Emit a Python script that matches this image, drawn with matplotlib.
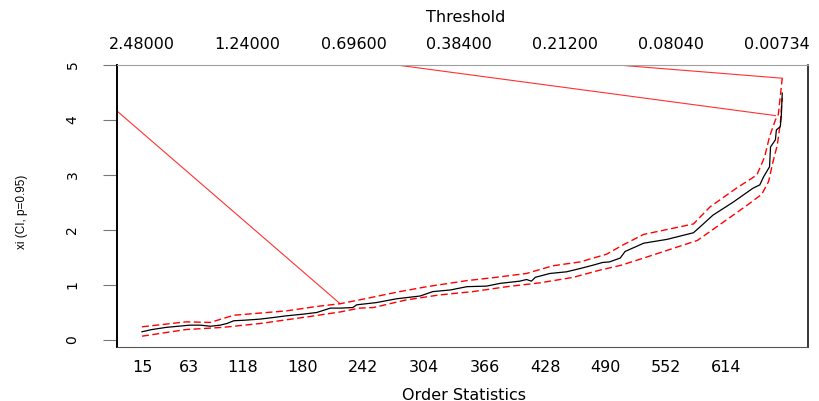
import numpy as np
import matplotlib
matplotlib.use('Agg')
import matplotlib.pyplot as plt

# hill-type plot: shape estimate xi vs number of order statistics, with 95% CI
k_xi = [15, 25, 40, 52, 64, 75, 85, 95, 102, 109, 120, 136, 150, 163, 180, 194, 208, 218,
        231, 235, 255, 276, 300, 313, 331, 348, 368, 382, 402, 409, 414, 418, 433, 450, 464,
        477, 487, 494, 505, 510, 529, 553, 580, 587, 600, 621, 641, 648, 652, 658, 659, 664,
        665, 669, 670, 671]
xi = [0.15, 0.19, 0.23, 0.25, 0.27, 0.27, 0.25, 0.27, 0.30, 0.35, 0.36, 0.38, 0.41, 0.44,
      0.47, 0.50, 0.58, 0.58, 0.59, 0.64, 0.68, 0.75, 0.80, 0.88, 0.91, 0.97, 0.98, 1.03,
      1.07, 1.10, 1.07, 1.14, 1.21, 1.24, 1.30, 1.36, 1.41, 1.42, 1.49, 1.61, 1.76, 1.83,
      1.95, 2.06, 2.27, 2.51, 2.76, 2.82, 2.97, 3.15, 3.51, 3.64, 3.82, 3.88, 4.06, 4.49]

k_up = [15, 60, 85, 109, 163, 194, 218, 238, 279, 307, 348, 378, 409, 436, 464, 491,
        508, 529, 580, 597, 624, 645, 653, 658, 664, 667, 671]
ci_up = [0.24, 0.33, 0.32, 0.45, 0.53, 0.61, 0.66, 0.73, 0.88, 0.97, 1.08, 1.14, 1.21,
         1.35, 1.42, 1.56, 1.73, 1.92, 2.11, 2.42, 2.76, 3.00, 3.33, 3.70, 4.00, 4.10, 4.76]

k_lo = [15, 60, 98, 136, 184, 218, 238, 252, 286, 320, 354, 389, 423, 457, 484, 506,
        529, 584, 604, 635, 650, 657, 661, 666, 669, 671]
ci_lo = [0.07, 0.19, 0.23, 0.30, 0.42, 0.51, 0.58, 0.59, 0.73, 0.82, 0.88, 0.97, 1.04,
         1.14, 1.27, 1.36, 1.49, 1.81, 2.06, 2.45, 2.65, 2.88, 3.20, 3.55, 3.94, 4.40]

# stray segments of the upper CI that run off the plot region
seg_k = [(-11, 218), (276, 664), (502, 671)]
seg_y = [(4.17, 0.66), (5.0, 4.08), (5.0, 4.76)]

bottom_ticks = [15, 63, 118, 180, 242, 304, 366, 428, 490, 552, 614]
top_pos = [15, 123, 232, 340, 448, 557, 665]
top_labels = ['2.48000', '1.24000', '0.69600', '0.38400', '0.21200', '0.08040', '0.00734']

plt.rcParams['font.family'] = ['DejaVu Sans']

fig = plt.figure(figsize=(8.2, 4.01), dpi=100)
ax = fig.add_axes([117/820, 1 - 347/401, (808 - 117)/820, (347 - 65)/401])

for (k0, k1), (y0, y1) in zip(seg_k, seg_y):
    ax.plot([k0, k1], [y0, y1], color='#ff3030', lw=0.8)

ax.plot(k_up, ci_up, color='red', lw=1.0, dashes=(5, 2.5))
ax.plot(k_lo, ci_lo, color='red', lw=1.0, dashes=(5, 2.5))
ax.plot(k_xi, xi, color='black', lw=0.9)

ax.set_xlim(-10.6, 697.4)
ax.set_ylim(-0.127, 5.0)

ax.set_xticks(bottom_ticks)
ax.set_xticklabels([str(t) for t in bottom_ticks])
ax.tick_params(axis='x', length=0, pad=9, labelsize=11.5)
ax.set_yticks([0, 1, 2, 3, 4, 5])
ax.tick_params(axis='y', length=10, color='#777777', pad=17, labelsize=10)
for lab in ax.get_yticklabels():
    lab.set_rotation(90)
    lab.set_va('center')

ax.spines['left'].set_linewidth(1.4)
ax.spines['right'].set_linewidth(1.1)
ax.spines['top'].set_color('#a0a0a0')
ax.spines['bottom'].set_color('#555555')

ax2 = ax.twiny()
ax2.set_xlim(ax.get_xlim())
ax2.set_xticks(top_pos)
ax2.set_xticklabels(top_labels)
ax2.tick_params(axis='x', length=0, pad=9, labelsize=11.5)
for s in ax2.spines.values():
    s.set_visible(False)

fig.text(466/820, 1 - 18/401, 'Threshold', ha='center', va='center', fontsize=11.5)
fig.text(464/820, 1 - 395/401, 'Order Statistics', ha='center', va='center', fontsize=11.5)
fig.text(22/820, 1 - 212/401, 'xi (CI, p=0.95)', ha='center', va='center',
         rotation=90, fontsize=8.5, family='Liberation Sans')

fig.savefig('out.png', dpi=100)
